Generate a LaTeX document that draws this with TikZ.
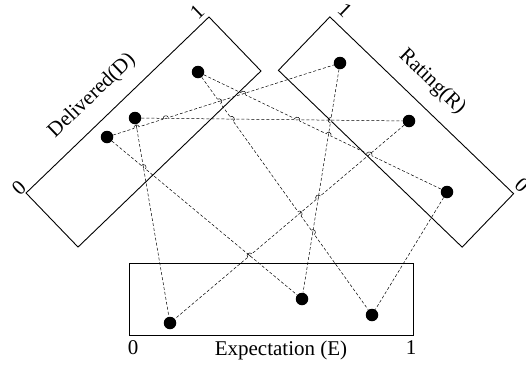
\documentclass[tikz,border=0pt]{standalone}
\usepackage{fontspec}
\setmainfont{Liberation Serif}
\usetikzlibrary{calc}
\newcommand\hopat[4]{%
  \draw[white, line width=1.4pt] let \p1=(intersection of #1--#2 and #3--#4),
        \p2=($(#4)-(#3)$), \n1={mod(atan2(\y2,\x2)+270,180)-90} in
        ($(\p1)+(\n1:2.7pt)$) -- ($(\p1)-(\n1:2.7pt)$);
  \draw[black, line width=0.5pt] let \p1=(intersection of #1--#2 and #3--#4),
        \p3=($(#2)-(#1)$), \n2={atan2(\y3,\x3)} in
        ($(\p1)+(\n2:1.2pt)$) -- ($(\p1)-(\n2:1.2pt)$);
  \draw[black, line width=0.5pt] let \p1=(intersection of #1--#2 and #3--#4),
        \p2=($(#4)-(#3)$), \n1={mod(atan2(\y2,\x2)+270,180)-90} in
        ($(\p1)+(\n1:2.7pt)$) arc[start angle=\n1, end angle=\n1+180, radius=2.7pt];
}
\begin{document}
\begin{tikzpicture}[x=1pt,y=-1pt,
  frame/.style={draw=black, line width=0.9pt, inner sep=0pt},
  dot/.style={circle, fill=black, inner sep=0pt, minimum size=12.5pt},
  link/.style={draw=black, line width=0.5pt, dash pattern=on 3pt off 2pt},
  lbl/.style={font=\fontsize{21}{24}\selectfont, inner sep=0pt},
]
\useasboundingbox (0,0) rectangle (526,365);
% frames
\node[frame, rotate=43.9, minimum width=253.9pt, minimum height=75pt] (Dbox) at (143.5,132) {};
\node[frame, rotate=-43.9, minimum width=255pt, minimum height=74.2pt] (Rbox) at (396,132) {};
\node[frame, minimum width=284pt, minimum height=72pt] (Ebox) at (271,299) {};
% dots
\node[dot] (D1) at (198,72) {};
\node[dot] (D2) at (135,118) {};
\node[dot] (D3) at (107,137) {};
\node[dot] (R1) at (340,63) {};
\node[dot] (R2) at (409,121) {};
\node[dot] (R3) at (447,192) {};
\node[dot] (E1) at (170,323) {};
\node[dot] (E2) at (302,299) {};
\node[dot] (E3) at (372,315) {};
% links
\draw[link] (D1) -- (R3);
\draw[link] (D1) -- (E3);
\draw[link] (D2) -- (R2);
\draw[link] (D2) -- (E1);
\draw[link] (D3) -- (R1);
\draw[link] (D3) -- (E2);
\draw[link] (R1) -- (E2);
\draw[link] (R2) -- (E1);
\draw[link] (R3) -- (E3);
% hop-overs
\hopat{D2}{R2}{D1}{R3}
\hopat{D3}{R1}{D1}{R3}
\hopat{R1}{E2}{D1}{R3}
\hopat{R2}{E1}{D1}{R3}
\hopat{D2}{R2}{D1}{E3}
\hopat{D3}{R1}{D1}{E3}
\hopat{R1}{E2}{D1}{E3}
\hopat{R2}{E1}{D1}{E3}
\hopat{D2}{R2}{D3}{R1}
\hopat{D2}{R2}{R1}{E2}
\hopat{D2}{E1}{D3}{R1}
\hopat{D2}{E1}{D3}{E2}
\hopat{D3}{E2}{R2}{E1}
\hopat{R1}{E2}{R2}{E1}
% labels
\node[lbl, rotate=43.9] (Dlab) at (92,96) {Delivered(D)};
\node[lbl, rotate=43.9] (D0) at (19,188) {0};
\node[lbl, rotate=43.9] (D1lab) at (197,12) {1};
\node[lbl, rotate=-43.9] (Rlab) at (432,82) {Rating(R)};
\node[lbl, rotate=-43.9] (R1lab) at (345,10) {1};
\node[lbl, rotate=-43.9] (R0) at (522,185) {0};
\node[lbl] (Elab) at (281,350) {Expectation (E)};
\node[lbl] (E0) at (133,348) {0};
\node[lbl] (E1lab) at (411,348) {1};
\end{tikzpicture}
\end{document}
